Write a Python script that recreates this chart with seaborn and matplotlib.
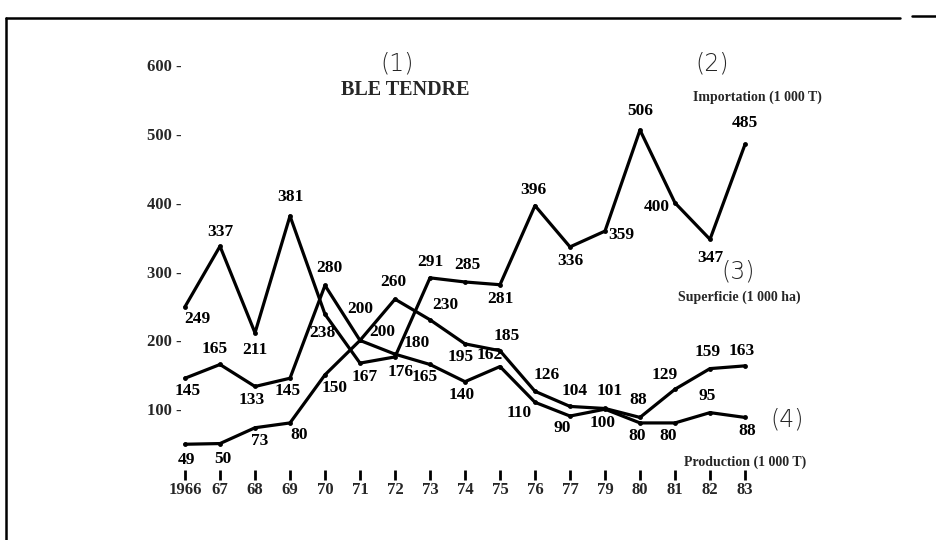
import numpy as np
import pandas as pd
import seaborn as sns
import matplotlib.pyplot as plt
from matplotlib.lines import Line2D

# données (blé tendre)
annees = ["1966", "67", "68", "69", "70", "71", "72", "73", "74", "75",
          "76", "77", "79", "80", "81", "82", "83"]
importation = [249, 337, 211, 381, 238, 167, 176, 291, 285, 281,
               396, 336, 359, 506, 400, 347, 485]
superficie = [145, 165, 133, 145, 280, 200, 260, 230, 195, 185,
              126, 104, 101, 88, 129, 159, 163]
production = [49, 50, 73, 80, 150, 200, 180, 165, 140, 162,
              110, 90, 100, 80, 80, 95, 88]
graduations = [100, 200, 300, 400, 500, 600]

# décalage des étiquettes (pixels, y vers le bas)
off_imp = [(12, 12), (0, -14), (0, 17), (0, -19), (-3, 19), (5, 14), (6, 15),
           (0, -16), (2, -17), (0, 14), (-2, -16), (0, 14), (16, 4),
           (0, -19), (-18, 4), (0, 19), (0, -21)]
off_sup = [(3, 13), (-5, -15), (-3, 14), (-2, 13), (4, -17), (0, -31),
           (-2, -17), (15, -15), (-4, 13), (7, -15), (12, -16), (5, -15),
           (5, -17), (-2, -17), (-10, -14), (-2, -17), (-3, -15)]
off_pro = [(2, 16), (3, 15), (5, 13), (9, 12), (10, 13), (22, -8), (22, -11),
           (-5, 13), (-3, 13), (-10, -12), (-16, 11), (-8, 12), (-2, 14),
           (-3, 13), (-7, 13), (-3, -17), (2, 14)]

W, H = 937, 540
sns.set_style("white")
plt.rcParams["font.family"] = ["Liberation Serif", "DejaVu Serif"]

fig = plt.figure(figsize=(W / 100, H / 100), dpi=100)
# axe : x de 181.5 à 780 px, y de 480 à 31 px
ax = fig.add_axes([181.5 / W, (H - 480) / H, 598.5 / W, 449 / H])

pos = np.arange(len(annees))
df = pd.concat([
    pd.DataFrame({"pos": pos, "valeur": importation, "serie": "Importation"}),
    pd.DataFrame({"pos": pos, "valeur": superficie, "serie": "Superficie"}),
    pd.DataFrame({"pos": pos, "valeur": production, "serie": "Production"}),
])
sns.lineplot(data=df, x="pos", y="valeur", hue="serie",
             palette=["black", "black", "black"], linewidth=2.3,
             marker="o", markersize=3.5, markeredgewidth=0,
             legend=False, ax=ax, clip_on=False)

for vals, offs in [(importation, off_imp), (superficie, off_sup),
                   (production, off_pro)]:
    for i, (v, (dx, dy)) in enumerate(zip(vals, offs)):
        ax.annotate(str(v), (i, v), xytext=(dx * 0.72, -dy * 0.72),
                    textcoords="offset points", ha="center", va="center",
                    fontsize=12.5, fontweight="bold", color="black")

ax.set_xlim(-0.1, 17)
ax.set_ylim(-3, 650)
for s in ax.spines.values():
    s.set_visible(False)
ax.set_xlabel("")
ax.set_ylabel("")
ax.set_xticks(pos)
ax.set_xticklabels(annees, fontsize=12, fontweight="bold")
ax.set_yticks(graduations)
ax.set_yticklabels([f"{g} -" for g in graduations], fontsize=12,
                   fontweight="bold")
ax.tick_params(axis="y", left=False, length=0, pad=0)
ax.tick_params(axis="x", bottom=True, direction="in", length=7, width=2,
               pad=1.5, color="black")
ax.grid(False)

def px(x, y):
    return x / W, 1 - y / H

fig.text(*px(405, 90), "BLE TENDRE", ha="center", va="center",
         fontsize=14.5, fontweight="bold")
fig.text(*px(757, 97), "Importation (1 000 T)", ha="center", va="center",
         fontsize=10, fontweight="bold")
fig.text(*px(739, 297), "Superficie (1 000 ha)", ha="center", va="center",
         fontsize=10, fontweight="bold")
fig.text(*px(745, 462), "Production (1 000 T)", ha="center", va="center",
         fontsize=10, fontweight="bold")
for lab, (x, y) in [("(1)", (397, 63)), ("(2)", (712, 63)),
                    ("(3)", (738, 272)), ("(4)", (787, 420))]:
    fig.text(*px(x, y), lab, ha="center", va="center", fontsize=17,
             family="DejaVu Sans", fontweight="light")

# cadre du document
fig.add_artist(Line2D([6 / W, 6 / W], [0, 1 - 18 / H], color="black",
                      linewidth=1.8, transform=fig.transFigure))
fig.add_artist(Line2D([6 / W, 900 / W], [1 - 18 / H, 1 - 18 / H],
                      color="black", linewidth=1.8, transform=fig.transFigure))
fig.add_artist(Line2D([912 / W, 1], [1 - 16 / H, 1 - 16 / H],
                      color="black", linewidth=1.8, transform=fig.transFigure))

fig.savefig("out.png", dpi=100)
